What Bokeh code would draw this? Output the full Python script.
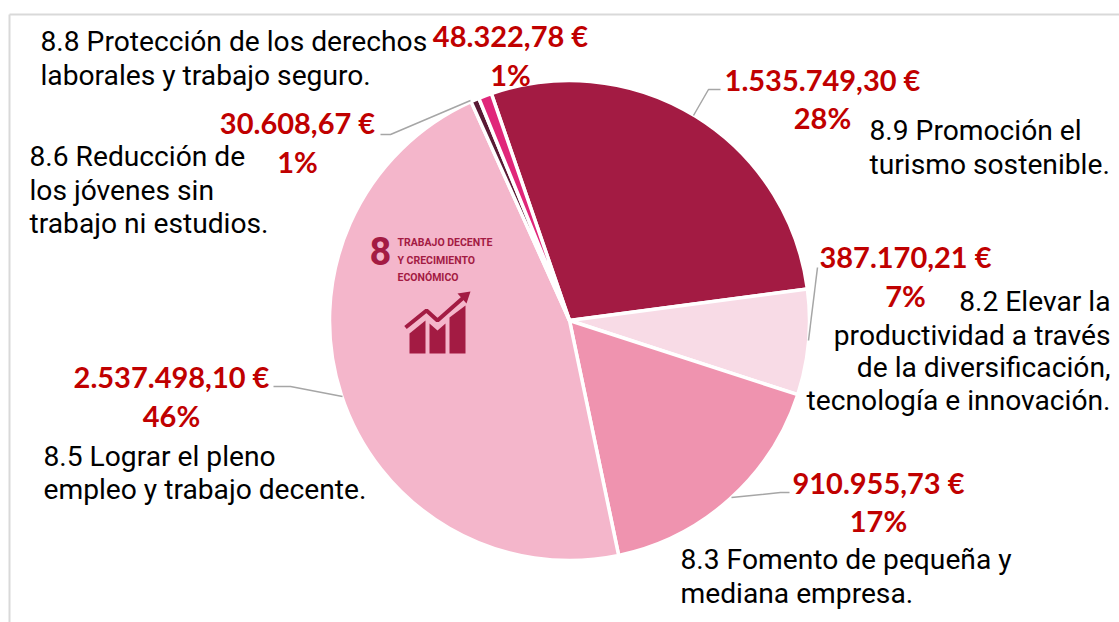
from math import radians, pi
from bokeh.plotting import figure
from bokeh.models import Range1d
from bokeh.core.properties import value
from bokeh.embed import file_html
from bokeh.resources import INLINE

targets = ["8.9", "8.2", "8.3", "8.5", "8.6", "8.8"]
amounts = [1535749.30, 387170.21, 910955.73, 2537498.10, 30608.67, 48322.78]
amount_labels = ["1.535.749,30 €", "387.170,21 €", "910.955,73 €", "2.537.498,10 €", "30.608,67 €", "48.322,78 €"]
percent_labels = ["28%", "7%", "17%", "46%", "1%", "1%"]
descriptions = [
    ["8.9 Promoción el", "turismo sostenible."],
    ["8.2 Elevar la", "productividad a través", "de la diversificación,", "tecnología e innovación."],
    ["8.3 Fomento de pequeña y", "mediana empresa."],
    ["8.5 Lograr el pleno", "empleo y trabajo decente."],
    ["8.6  Reducción de", "los jóvenes sin", "trabajo ni estudios."],
    ["8.8 Protección de los derechos", "laborales y trabajo seguro."],
]
icon_lines = ["TRABAJO DECENTE", "Y CRECIMIENTO", "ECONÓMICO"]

colors = ["#A31B43", "#F8DBE6", "#EF93AF", "#F4B6CB", "#5A1A35", "#E0277A"]
H = 622
def Y(v):
    return H - v

p = figure(width=1119, height=622, output_backend="svg", toolbar_location=None,
           x_range=Range1d(0, 1119), y_range=Range1d(0, 622),
           min_border=0, outline_line_color=None)
p.axis.visible = False
p.grid.visible = False

# frame
p.line([9, 9], [Y(14), Y(622)], line_color="#d9d9d9", line_width=2)
p.line([9, 1119], [Y(14), Y(14)], line_color="#d9d9d9", line_width=2)

# pie
total = sum(amounts)
cx, cy, r = 569, Y(320), 240
ang = pi / 2 + radians(19)
for a, c in zip(amounts, colors):
    end = ang - a / total * 2 * pi
    p.wedge(x=[cx], y=[cy], radius=r, start_angle=end, end_angle=ang, direction="anticlock",
            fill_color=c, line_color="white", line_width=3.5)
    ang = end

# leaders
leaders = [
    ([693, 708, 720], [115, 89, 89]),
    ([817, 808], [267, 340]),
    ([731, 780, 789], [497, 492, 492]),
    ([273, 290, 342], [386, 386, 396]),
    ([380, 390, 470], [134, 134, 100]),
]
for xs, ys in leaders:
    p.line(xs, [Y(v) for v in ys], line_color="#a6a6a6", line_width=1.5)

RED = "#C00000"
def t(x, y, s, color="#000000", size=28, font="Roboto", style="normal", align="left"):
    p.text([x], [Y(y)], text=[s], text_color=color, text_font=value(font),
           text_font_size=f"{size}px", text_font_style=style, text_align=align, text_baseline="middle")

amt_pos = [(822, 79), (905, 256), (878, 482), (171, 376), (297, 122), (510, 35)]
pct_pos = [(822, 117), (905, 295), (878, 520), (171, 415), (297, 161), (510, 74)]
for s, (x, y) in zip(amount_labels, amt_pos):
    t(x, y, s, RED, 29, "Lato", "bold", "center")
for s, (x, y) in zip(percent_labels, pct_pos):
    t(x, y, s, RED, 29, "Lato", "bold", "center")

desc_pos = [
    (869, [130, 164], "left"),
    (1110, [301, 335, 367, 400], "right"),
    (680, [559, 593], "left"),
    (43, [456, 489], "left"),
    (29, [156, 190, 223], "left"),
    (40, [41, 75], "left"),
]
for lines, (x, ys, al) in zip(descriptions, desc_pos):
    for s, y in zip(lines, ys):
        t(x, y, s, size=28.2, align=al)

# SDG icon
ICON = "#A31B43"
t(369, 250, "8", ICON, 38, "Roboto", "bold")
for s, y in zip(icon_lines, [242, 260, 277]):
    t(397, y, s, ICON, 10.5, "Roboto", "bold")
bars = [
    ([409, 425, 425, 409], [353, 353, 320, 333]),
    ([429, 445, 445, 437, 429], [353, 353, 323, 330, 323]),
    ([449, 465, 465, 449], [353, 353, 305, 317]),
    ([457, 470, 466], [293, 291, 303]),
]
for xs, ys in bars:
    p.patch(xs, [Y(v) for v in ys], fill_color=ICON, line_color=None)
p.line([405, 426, 437, 463], [Y(v) for v in [327, 310, 320, 297]], line_color=ICON, line_width=4)

open("out.html", "w").write(file_html(p, INLINE))
